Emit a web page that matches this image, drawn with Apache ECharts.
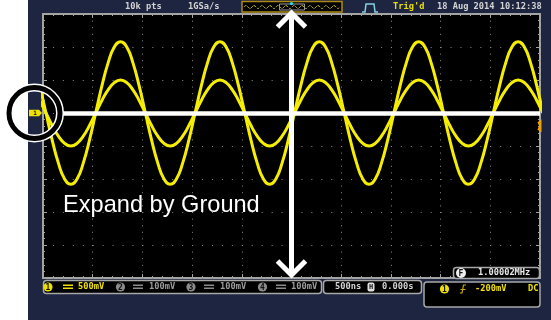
<!DOCTYPE html>
<html><head><meta charset="utf-8">
<script src="https://cdn.jsdelivr.net/npm/echarts@6/dist/echarts.min.js"></script>
<style>html,body{margin:0;padding:0;background:#fff;overflow:hidden}#c{width:551px;height:320px}</style>
</head><body><div id="c"></div><script>
// time in microseconds (500 ns/div, 10 divisions)
const timesUs = [-2.5325,-2.47,-2.4075,-2.345,-2.2825,-2.22,-2.1575,-2.095,-2.0325,-1.97,-1.9075,-1.845,-1.7825,-1.72,-1.6575,-1.595,-1.5325,-1.47,-1.4075,-1.345,-1.2825,-1.22,-1.1575,-1.095,-1.0325,-0.97,-0.9075,-0.845,-0.7825,-0.72,-0.6575,-0.595,-0.5325,-0.47,-0.4075,-0.345,-0.2825,-0.22,-0.1575,-0.095,-0.0325,0.03,0.0925,0.155,0.2175,0.28,0.3425,0.405,0.4675,0.53,0.5925,0.655,0.7175,0.78,0.8425,0.905,0.9675,1.03,1.0925,1.155,1.2175,1.28,1.3425,1.405,1.4675,1.53,1.5925,1.655,1.7175,1.78,1.8425,1.905,1.9675,2.03,2.0925,2.155,2.2175,2.28,2.3425,2.405,2.4675,2.53];
// channel 1 after expanding (volts, ground reference)
const ch1Expanded = [0.41,
  0,-0.41,-0.76,-1.0,-1.08,-1.0,-0.76,-0.41,0,0.41,0.76,1.0,1.08,1.0,0.76,0.41,
  0,-0.41,-0.76,-1.0,-1.08,-1.0,-0.76,-0.41,0,0.41,0.76,1.0,1.08,1.0,0.76,0.41,
  0,-0.41,-0.76,-1.0,-1.08,-1.0,-0.76,-0.41,0,0.41,0.76,1.0,1.08,1.0,0.76,0.41,
  0,-0.41,-0.76,-1.0,-1.08,-1.0,-0.76,-0.41,0,0.41,0.76,1.0,1.08,1.0,0.76,0.41,
  0,-0.41,-0.76,-1.0,-1.08,-1.0,-0.76,-0.41,0,0.41,0.76,1.0,1.08,1.0,0.76,0.41,
  0];
// channel 1 before expanding
const ch1Original = [0.19,
  0,-0.19,-0.35,-0.46,-0.5,-0.46,-0.35,-0.19,0,0.19,0.35,0.46,0.5,0.46,0.35,0.19,
  0,-0.19,-0.35,-0.46,-0.5,-0.46,-0.35,-0.19,0,0.19,0.35,0.46,0.5,0.46,0.35,0.19,
  0,-0.19,-0.35,-0.46,-0.5,-0.46,-0.35,-0.19,0,0.19,0.35,0.46,0.5,0.46,0.35,0.19,
  0,-0.19,-0.35,-0.46,-0.5,-0.46,-0.35,-0.19,0,0.19,0.35,0.46,0.5,0.46,0.35,0.19,
  0,-0.19,-0.35,-0.46,-0.5,-0.46,-0.35,-0.19,0,0.19,0.35,0.46,0.5,0.46,0.35,0.19,
  0];
const headerInfo = ['10k pts', '1GSa/s', "Trig'd", '18 Aug 2014 10:12:38'];
const channelScales = ['500mV', '100mV', '100mV', '100mV'];
const timebase = '500ns';
const hPosition = '0.000s';
const trigLevel = '-200mV';
const coupling = 'DC';
const frequency = '1.00002MHz';
const annotation = 'Expand by Ground';
const groundLineStartUs = -2.33;

const chart = echarts.init(document.getElementById('c'), null, {renderer: 'canvas'});
const zipS = (v) => timesUs.map((t, i) => [t, v[i]]);
const BORDER = '#a4a4a4';
const YEL = '#f6ee00';
const tickCfg = {show: true, inside: true, length: 4, lineStyle: {color: BORDER, width: 1}};
const minorCfg = {show: true, splitNumber: 5, length: 2, lineStyle: {color: BORDER, width: 1}};
const xBase = {type: 'value', min: -2.5, max: 2.5, interval: 0.5, axisLabel: {show: false}, axisLine: {show: false, onZero: false}, axisTick: tickCfg, minorTick: minorCfg};
const yBase = {type: 'value', min: -2.5, max: 1.5, interval: 0.5, axisLabel: {show: false}, axisLine: {show: false, onZero: false}, axisTick: tickCfg, minorTick: minorCfg};

chart.setOption({
  animation: false,
  backgroundColor: '#fff',
  grid: {left: 43, top: 14, width: 497, height: 264, show: true, backgroundColor: '#000', borderColor: BORDER, borderWidth: 2},
  xAxis: [
    Object.assign({}, xBase, {position: 'bottom', splitLine: {show: true, lineStyle: {color: '#8a8a8a', width: 1, type: [1, 5.6]}}}),
    Object.assign({}, xBase, {position: 'top', splitLine: {show: false}})
  ],
  yAxis: [
    Object.assign({}, yBase, {position: 'left', splitLine: {show: true, lineStyle: {color: '#8a8a8a', width: 1, type: [1, 8.94]}}}),
    Object.assign({}, yBase, {position: 'right', splitLine: {show: false}})
  ],
  series: [
    {type: 'line', data: zipS(ch1Expanded), smooth: true, showSymbol: false, lineStyle: {color: YEL, width: 3}, z: 2},
    {type: 'line', data: zipS(ch1Original), smooth: true, showSymbol: false, lineStyle: {color: YEL, width: 3}, z: 3,
      markLine: {silent: true, symbol: ['none', 'none'], label: {show: false},
        lineStyle: {color: '#fff', width: 4.5, type: 'solid'},
        data: [[{coord: [groundLineStartUs, 0]}, {coord: [2.5, 0]}]]}}
  ]
});

const P = (t, v) => chart.convertToPixel({gridIndex: 0}, [t, v]);
const g0 = P(0, 0);
const ax = g0[0], gy = g0[1];
const trigY = P(0, -0.2)[1];
const MONO = '"DejaVu Sans Mono", monospace';
const txt = (text, x, y, fill, size, align) => ({type: 'text', z: 50, style: {text, x, y, fill, font: 'bold ' + (size || 8.7) + 'px ' + MONO, textAlign: align || 'left', textVerticalAlign: 'middle', verticalAlign: 'middle'}});
const circNum = (n, cx, cy, fill) => [
  {type: 'circle', z: 50, shape: {cx, cy, r: 4.6}, style: {fill}},
  {type: 'text', z: 51, style: {text: String(n), x: cx, y: cy + 0.5, fill: '#111', font: 'bold 8px ' + MONO, textAlign: 'center', textVerticalAlign: 'middle', verticalAlign: 'middle'}}
];
const eqSign = (x, y, fill) => [
  {type: 'rect', z: 50, shape: {x, y: y - 2.5, width: 10, height: 1.5}, style: {fill}},
  {type: 'rect', z: 50, shape: {x, y: y + 0.5, width: 10, height: 1.5}, style: {fill}}
];
// decorative mini waveform in the overview box
const wavePts = [];
for (let x = 244, i = 0; x <= 340; x += 2, i++) wavePts.push([x, i % 2 ? (i % 4 === 1 ? 5.5 : 8.5) : 7]);

const els = [
  {type: 'rect', z: -10, shape: {x: 28, y: 0, width: 523, height: 320}, style: {fill: '#1e2541'}},
  // header
  txt(headerInfo[0], 125, 7, '#d4d4d4'),
  txt(headerInfo[1], 188, 7, '#d4d4d4'),
  {type: 'rect', z: 40, shape: {x: 242, y: 1.5, width: 100, height: 10.5}, style: {fill: '#000', stroke: '#b08a10', lineWidth: 1.5}},
  {type: 'polyline', z: 41, shape: {points: wavePts, smooth: 0.5}, style: {fill: 'none', stroke: '#c8b800', lineWidth: 1, lineDash: [3, 1]}},
  {type: 'rect', z: 42, shape: {x: 279.5, y: 4, width: 25, height: 6}, style: {fill: 'none', stroke: '#9a9a9a', lineWidth: 1}},
  {type: 'circle', z: 43, shape: {cx: 291.5, cy: 3.5, r: 1.6}, style: {fill: '#30e0e0'}},
  {type: 'polyline', z: 40, shape: {points: [[362, 12], [365, 12], [366, 4], [374, 4], [375, 12], [378, 12]]}, style: {fill: 'none', stroke: '#86cfe0', lineWidth: 1.5}},
  txt(headerInfo[2], 393, 7, '#e8e000'),
  txt(headerInfo[3], 437, 7, '#d4d4d4'),
  // channel marker & trigger marker
  {type: 'polygon', z: 45, shape: {points: [[29, gy - 3.2], [39, gy - 3.2], [42, gy], [39, gy + 3.2], [29, gy + 3.2]]}, style: {fill: '#f0e000'}},
  {type: 'text', z: 46, style: {text: '1', x: 35, y: gy + 0.5, fill: '#111', font: 'bold 6px ' + MONO, textAlign: 'center', textVerticalAlign: 'middle', verticalAlign: 'middle'}},
  {type: 'polygon', z: 45, shape: {points: [[541.5, trigY - 7], [541.5, trigY + 6], [537.5, trigY + 3.5], [539, trigY - 0.5], [537.5, trigY - 4]]}, style: {fill: '#eea000'}},
  // bottom status bar
  {type: 'rect', z: 40, shape: {x: 43.5, y: 280.5, width: 278, height: 13, r: 3}, style: {fill: '#000', stroke: '#a8a8a8', lineWidth: 1.5}},
  ...circNum(1, 48, 287, '#f0e000'), ...eqSign(63, 287, '#f0e000'), txt(channelScales[0], 78, 287, '#f0e000'),
  ...circNum(2, 120.5, 287, '#8c8c8c'), ...eqSign(133, 287, '#8c8c8c'), txt(channelScales[1], 149, 287, '#9c9c9c'),
  ...circNum(3, 191, 287, '#8c8c8c'), ...eqSign(204, 287, '#8c8c8c'), txt(channelScales[2], 220, 287, '#9c9c9c'),
  ...circNum(4, 262.5, 287, '#8c8c8c'), ...eqSign(276, 287, '#8c8c8c'), txt(channelScales[3], 291, 287, '#9c9c9c'),
  {type: 'rect', z: 40, shape: {x: 323.5, y: 280.5, width: 98, height: 13, r: 3}, style: {fill: '#000', stroke: '#a8a8a8', lineWidth: 1.5}},
  txt(timebase, 335, 287, '#d4d4d4'),
  {type: 'rect', z: 50, shape: {x: 367.5, y: 282.5, width: 7, height: 9, r: 2}, style: {fill: '#e0e0e0'}},
  {type: 'text', z: 51, style: {text: 'H', x: 371, y: 287.5, fill: '#111', font: 'bold 7px ' + MONO, textAlign: 'center', textVerticalAlign: 'middle', verticalAlign: 'middle'}},
  txt(hPosition, 382, 287, '#d4d4d4'),
  {type: 'rect', z: 40, shape: {x: 424, y: 282, width: 116, height: 25, r: 3}, style: {fill: '#000', stroke: '#a8a8a8', lineWidth: 1.5}},
  ...circNum(1, 444.5, 289, '#f0e000'),
  {type: 'polyline', z: 50, shape: {points: [[460, 293], [462, 293], [463.5, 285], [466, 285]]}, style: {fill: 'none', stroke: '#c8a800', lineWidth: 1.2}},
  {type: 'line', z: 50, shape: {x1: 460.5, y1: 289.5, x2: 465.5, y2: 289.5}, style: {stroke: '#c8a800', lineWidth: 1}},
  txt(trigLevel, 475, 289, '#f0e000'),
  txt(coupling, 528, 289, '#f0e000'),
  {type: 'rect', z: 40, shape: {x: 453.5, y: 267.5, width: 86, height: 11, r: 3}, style: {fill: '#000', stroke: '#a8a8a8', lineWidth: 1.5}},
  {type: 'circle', z: 50, shape: {cx: 461, cy: 273, r: 5}, style: {fill: '#f0f0f0'}},
  {type: 'text', z: 51, style: {text: 'F', x: 461, y: 273.5, fill: '#111', font: 'bold 8px ' + MONO, textAlign: 'center', textVerticalAlign: 'middle', verticalAlign: 'middle'}},
  txt(frequency, 478, 273, '#e8e8e8'),
  // annotation: vertical double arrow
  {type: 'line', z: 60, shape: {x1: ax, y1: 13, x2: ax, y2: 275}, style: {stroke: '#fff', lineWidth: 5}},
  {type: 'polyline', z: 60, shape: {points: [[ax - 14, 27], [ax, 13], [ax + 14, 27]]}, style: {fill: 'none', stroke: '#fff', lineWidth: 5, lineJoin: 'miter'}},
  {type: 'polyline', z: 60, shape: {points: [[ax - 14, 261], [ax, 275], [ax + 14, 261]]}, style: {fill: 'none', stroke: '#fff', lineWidth: 5, lineJoin: 'miter'}},
  // circle around channel marker
  {type: 'circle', z: 61, shape: {cx: 34.5, cy: gy, r: 25.5}, style: {fill: 'none', stroke: '#fff', lineWidth: 8}},
  {type: 'circle', z: 62, shape: {cx: 34.5, cy: gy, r: 25.5}, style: {fill: 'none', stroke: '#000', lineWidth: 5}},
  {type: 'text', z: 60, style: {text: annotation, x: 63, y: 205, fill: '#fff', font: '23.6px "Liberation Sans", Arial, sans-serif', textAlign: 'left', textVerticalAlign: 'middle', verticalAlign: 'middle'}}
];
chart.setOption({graphic: {elements: els}});
</script></body></html>
